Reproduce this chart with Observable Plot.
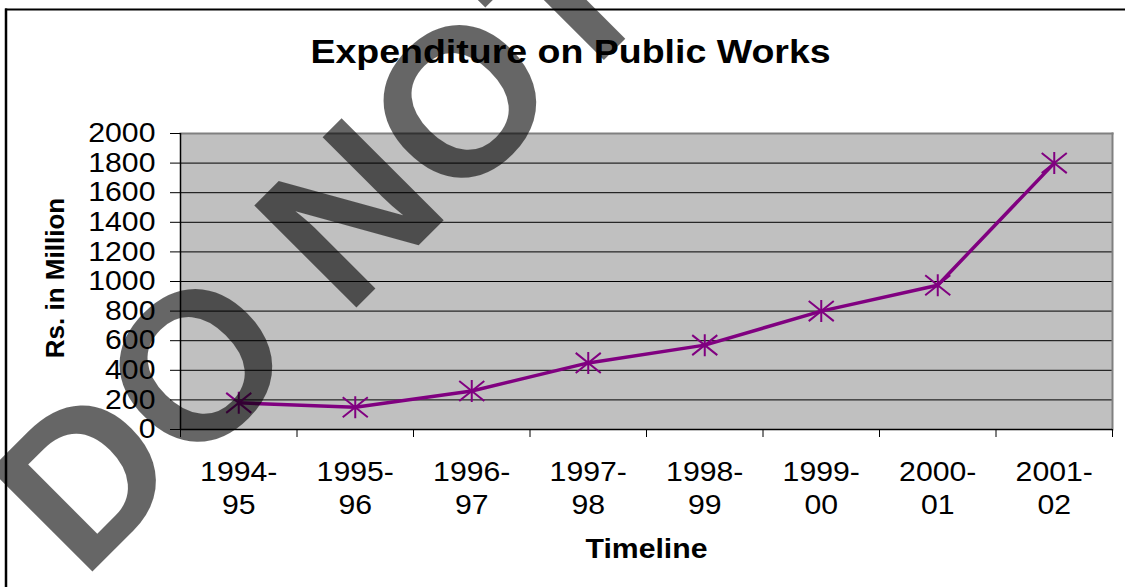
<!DOCTYPE html>
<html>
<head>
<meta charset="utf-8">
<script src="https://cdn.jsdelivr.net/npm/d3@7"></script>
<script src="https://cdn.jsdelivr.net/npm/@observablehq/plot@0.6"></script>
<style>
  html, body { margin: 0; padding: 0; background: #fff; }
  #chart svg { display: block; }
</style>
</head>
<body>
<div id="chart"></div>
<script>
// ---- data ----
const categories = ["1994-95", "1995-96", "1996-97", "1997-98", "1998-99", "1999-00", "2000-01", "2001-02"];
const expenditure = [180, 150, 260, 450, 570, 800, 975, 1800];
const yTicks = [0, 200, 400, 600, 800, 1000, 1200, 1400, 1600, 1800, 2000];
const titleText = "Expenditure on Public Works";
const xTitle = "Timeline";
const yTitle = "Rs. in Million";
const watermarkText = "DO NOT";

// ---- derived table ----
const data = categories.map((c, i) => ({category: c, pos: i + 0.5, value: expenditure[i]}));
const boundaries = d3.range(categories.length + 1);
const labelPositions = categories.map((c, i) => i + 0.5);
const splitLabel = c => c.replace("-", "-\n");

// Excel-like star marker (vertical stroke + X)
const star = {
  draw(context, size) {
    const r = Math.sqrt(size / Math.PI);
    const a = r * 1.14, b = r * 0.91;
    context.moveTo(0, -r); context.lineTo(0, r);
    context.moveTo(-a, -b); context.lineTo(a, b);
    context.moveTo(-a, b); context.lineTo(a, -b);
  }
};

const purple = "#800080";

const plot = Plot.plot({
  width: 1125,
  height: 587,
  marginLeft: 180,
  marginRight: 13,
  marginTop: 133,
  marginBottom: 158,
  style: {
    fontFamily: "'Liberation Sans', Arial, sans-serif",
    fontSize: "27px",
    color: "#000",
    background: "#fff",
    overflow: "visible"
  },
  x: {domain: [0, categories.length], axis: null},
  y: {domain: [0, 2000], axis: null},
  marks: [
    Plot.frame({fill: "#c0c0c0", stroke: null}),
    Plot.gridY(yTicks.filter(t => t > 0 && t < 2000), {stroke: "#000", strokeOpacity: 1, strokeWidth: 1}),
    Plot.frame({anchor: "top", stroke: "#808080", strokeWidth: 2}),
    Plot.frame({anchor: "right", stroke: "#808080", strokeWidth: 2}),
    Plot.axisY({ticks: yTicks, tickSize: 10, tickPadding: 15, label: null, fontSize: 27, tickFormat: d3.format("d")}),
    Plot.axisX({ticks: boundaries, tickSize: 8, tickFormat: () => "", label: null}),
    Plot.axisX({
      ticks: labelPositions, tickSize: 0, tickPadding: 28, label: null,
      tickFormat: v => splitLabel(categories[Math.round(v - 0.5)]),
      lineHeight: 1.22, fontSize: 27
    }),
    Plot.ruleX([0], {stroke: "#000", strokeWidth: 1.5}),
    Plot.ruleY([0], {stroke: "#000", strokeWidth: 1.5}),
    Plot.line(data, {x: "pos", y: "value", stroke: purple, strokeWidth: 3.5}),
    Plot.dot(data, {x: "pos", y: "value", symbol: star, r: 11, stroke: purple, strokeWidth: 2, fill: "none"}),
    Plot.text([titleText], {frameAnchor: "top", dx: -76, dy: -71, lineAnchor: "bottom", fontSize: 33.5, fontWeight: "bold"}),
    Plot.text([xTitle], {frameAnchor: "bottom", dy: 128, lineAnchor: "bottom", fontSize: 27, fontWeight: "bold"}),
    Plot.text([yTitle], {frameAnchor: "left", textAnchor: "middle", dx: -117, dy: -3.5, rotate: -90, lineAnchor: "bottom", fontSize: 26, fontWeight: "bold"})
  ]
});

document.getElementById("chart").append(plot);
const svg = d3.select(plot);

// horizontal stretch of horizontal text, as in the reference rendering
const S = 1.12;
svg.selectAll("text").each(function () {
  const tr = this.getAttribute("transform") || "";
  if (/rotate/.test(tr)) return;
  let base = tr;
  const x = this.getAttribute("x");
  if (x !== null && isFinite(+x)) {
    base = `${tr} translate(${+x},0)`;
    this.setAttribute("x", 0);
  }
  this.setAttribute("transform", `${base} scale(${S},1)`);
});

// outer chart-area border (top and left visible)
svg.append("line").attr("x1", 5).attr("x2", 1125).attr("y1", 9.5).attr("y2", 9.5)
  .attr("stroke", "#000").attr("stroke-width", 2);
svg.append("line").attr("x1", 6).attr("x2", 6).attr("y1", 8.5).attr("y2", 587)
  .attr("stroke", "#000").attr("stroke-width", 2.5);

// watermark
svg.append("text")
  .attr("transform", "translate(82.5,581.5) rotate(-45)")
  .attr("text-anchor", "start")
  .attr("font-family", "'Liberation Sans', Arial, sans-serif")
  .attr("font-size", 210)
  .attr("font-weight", "bold")
  .attr("fill", "#000")
  .attr("fill-opacity", 0.6)
  .text(watermarkText);
</script>
</body>
</html>
